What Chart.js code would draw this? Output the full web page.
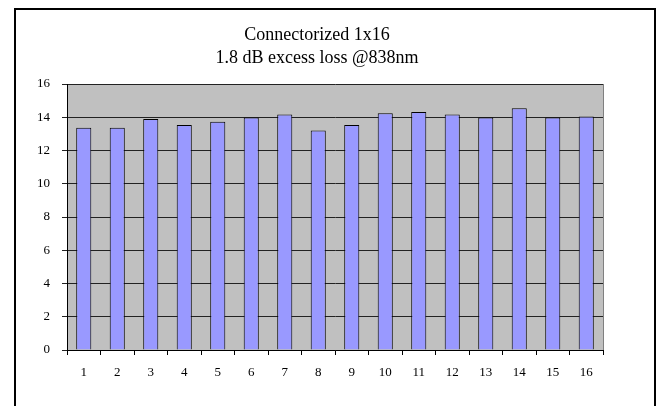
<!DOCTYPE html>
<html>
<head>
<meta charset="utf-8">
<script src="https://cdn.jsdelivr.net/npm/chart.js@4/dist/chart.umd.min.js"></script>
<style>
  html,body{margin:0;padding:0;background:#fff;}
  #wrap{width:666px;height:406px;position:relative;}
</style>
</head>
<body>
<div id="wrap"><canvas id="chart"></canvas></div>
<script>
/* Connectorized 1x16 — excess loss per port */
const categories=['1','2','3','4','5','6','7','8','9','10','11','12','13','14','15','16'];
const lossValues=[13.37,13.37,13.89,13.53,13.73,13.99,14.17,13.21,13.53,14.24,14.32,14.17,13.98,14.54,13.98,14.05];
const yTicks=[0,2,4,6,8,10,12,14,16];
const titleLines=['Connectorized 1x16','1.8 dB excess loss @838nm'];

const serif='"Liberation Serif","Times New Roman",serif';

/* ── plot background, frame, title ── */
const excelLook={
  id:'excelLook',
  beforeDraw(chart){
    const {ctx,chartArea:a}=chart;
    ctx.save();
    ctx.fillStyle='#c0c0c0';
    ctx.fillRect(a.left,a.top,a.right-a.left,a.bottom-a.top);
    ctx.restore();
  },
  afterDraw(chart){
    const {ctx,chartArea:a}=chart;
    ctx.save();
    // right edge of plot area
    ctx.strokeStyle='#808080';
    ctx.lineWidth=1;
    ctx.beginPath();
    ctx.moveTo(a.right+0.5,a.top);
    ctx.lineTo(a.right+0.5,a.bottom);
    ctx.stroke();
    // outer chart border
    ctx.strokeStyle='#000';
    ctx.lineWidth=2;
    ctx.beginPath();
    ctx.moveTo(15,410);
    ctx.lineTo(15,9);
    ctx.lineTo(655,9);
    ctx.lineTo(655,410);
    ctx.stroke();
    // title
    ctx.fillStyle='#000';
    ctx.font='18px '+serif;
    ctx.textAlign='center';
    ctx.textBaseline='middle';
    titleLines.forEach((t,i)=>ctx.fillText(t,317,35+i*23));
    ctx.restore();
  }
};

new Chart(document.getElementById('chart'),{
  type:'bar',
  data:{
    labels:categories,
    datasets:[{
      data:lossValues,
      backgroundColor:'#9999ff',
      borderColor:'#000',
      borderWidth:1,
      barPercentage:1,
      categoryPercentage:0.45
    }]
  },
  options:{
    responsive:true,maintainAspectRatio:false,animation:false,
    layout:{padding:{top:84,left:0,right:63,bottom:0}},
    plugins:{legend:{display:false},title:{display:false},tooltip:{enabled:false}},
    scales:{
      x:{
        afterFit(s){s.height=56;},
        grid:{drawOnChartArea:false,offset:true,tickLength:5,color:'#000'},
        border:{color:'#000',width:1},
        ticks:{color:'#000',padding:10,font:{family:serif,size:13}}
      },
      y:{
        min:0,max:16,
        afterFit(s){s.width=67;},
        afterBuildTicks(s){s.ticks=yTicks.map(v=>({value:v}));},
        grid:{color:'#222',lineWidth:1,tickLength:5},
        border:{color:'#000',width:1},
        ticks:{color:'#000',padding:12,font:{family:serif,size:13}}
      }
    }
  },
  plugins:[excelLook]
});
</script>
</body>
</html>
